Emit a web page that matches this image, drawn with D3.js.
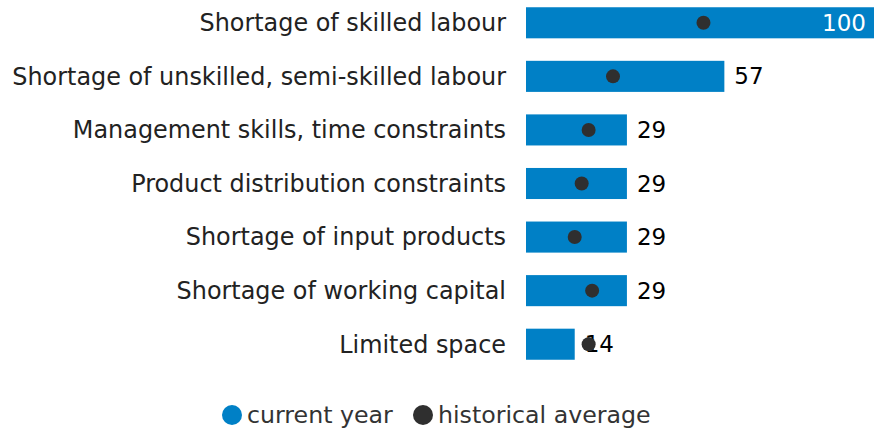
<!DOCTYPE html>
<html>
<head>
<meta charset="utf-8">
<script src="https://cdn.jsdelivr.net/npm/d3@7"></script>
<style>
  body { margin: 0; background: #fff; }
  text { font-family: "DejaVu Sans", sans-serif; }
</style>
</head>
<body>
<svg id="chart" width="875" height="431"></svg>
<script>
var categories = [
  'Shortage of skilled labour',
  'Shortage of unskilled, semi-skilled labour',
  'Management skills, time constraints',
  'Product distribution constraints',
  'Shortage of input products',
  'Shortage of working capital',
  'Limited space'
];
var currentYear = [100, 57, 29, 29, 29, 29, 14];
var historicalAverage = [51, 25, 18, 16, 14, 19, 18];
var legendLabels = ['current year', 'historical average'];

var blue = '#0080c6';
var dark = '#2f2f2f';

var svg = d3.select('#chart');

var x = d3.scaleLinear().domain([0, 100]).range([526, 874]);
var y = d3.scaleBand().domain(categories).range([-4, 371]).paddingInner(0.42).paddingOuter(0.21);

var rows = categories.map(function(c, i) {
  return { name: c, cur: currentYear[i], hist: historicalAverage[i] };
});

// category labels
svg.append('g')
  .selectAll('text')
  .data(rows)
  .enter()
  .append('text')
  .attr('x', 506)
  .attr('y', d => y(d.name) + y.bandwidth() / 2)
  .attr('dy', '0.35em')
  .attr('text-anchor', 'end')
  .attr('font-size', 23.9)
  .attr('fill', '#222')
  .text(d => d.name);

// bars
svg.append('g')
  .selectAll('rect')
  .data(rows)
  .enter()
  .append('rect')
  .attr('x', x(0))
  .attr('y', d => y(d.name))
  .attr('width', d => x(d.cur) - x(0))
  .attr('height', y.bandwidth())
  .attr('fill', blue);

// value labels
svg.append('g')
  .selectAll('text')
  .data(rows)
  .enter()
  .append('text')
  .attr('x', d => d.cur >= 90 ? x(d.cur) - 8 : x(d.cur) + 10)
  .attr('y', d => y(d.name) + y.bandwidth() / 2)
  .attr('dy', '0.35em')
  .attr('text-anchor', d => d.cur >= 90 ? 'end' : 'start')
  .attr('font-size', 23)
  .attr('fill', d => d.cur >= 90 ? '#fff' : '#000')
  .text(d => d.cur);

// historical dots
svg.append('g')
  .selectAll('circle')
  .data(rows)
  .enter()
  .append('circle')
  .attr('cx', d => x(d.hist))
  .attr('cy', d => y(d.name) + y.bandwidth() / 2)
  .attr('r', 7)
  .attr('fill', dark);

// legend
var legend = svg.append('g').attr('transform', 'translate(0, 415)');
var legendX = [232, 423];
var legendCol = [blue, dark];
legendLabels.forEach(function(l, i) {
  legend.append('circle')
    .attr('cx', legendX[i])
    .attr('cy', 0)
    .attr('r', 10)
    .attr('fill', legendCol[i]);
  legend.append('text')
    .attr('x', legendX[i] + 15)
    .attr('y', 0)
    .attr('dy', '0.35em')
    .attr('font-size', 23.7)
    .attr('fill', '#333')
    .text(l);
});
</script>
</body>
</html>
